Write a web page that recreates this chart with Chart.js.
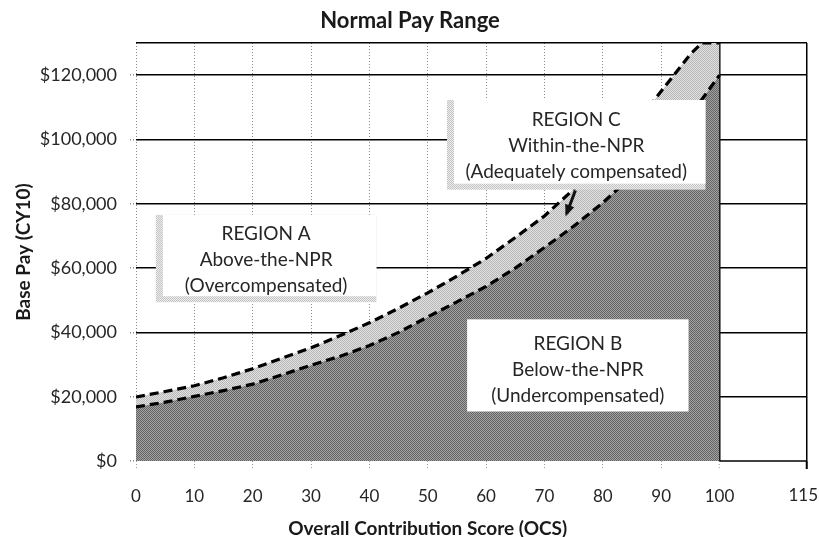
<!DOCTYPE html>
<html>
<head>
<meta charset="utf-8">
<script src="https://cdn.jsdelivr.net/npm/chart.js@4.4.1/dist/chart.umd.min.js"></script>
<style>
  html, body { margin: 0; padding: 0; background: #ffffff; }
  #wrap { width: 819px; height: 537px; position: relative; }
</style>
</head>
<body>
<div id="wrap"><canvas id="chart"></canvas></div>
<script>
// ---- data ----
const chartTitle = 'Normal Pay Range';
const xAxisTitle = 'Overall Contribution Score (OCS)';
const yAxisTitle = 'Base Pay (CY10)';
const scores   = [0, 5, 10, 15, 20, 25, 30, 35, 40, 45, 50, 55, 60, 65, 70, 75, 80, 85, 90, 95, 97, 100];
const upperNPR = [19900, 21600, 23400, 25900, 28700, 32000, 35200, 39000, 43000, 47500, 52300, 57500, 63000, 69500, 76200, 84500, 93500, 103500, 115000, 126500, 130000, 130000];
const lowerNPR = [16800, 18300, 20100, 21900, 23900, 26800, 29800, 32600, 35900, 40000, 44800, 49500, 54300, 60000, 66400, 73000, 80300, 88700, 98000, 108000, 112500, 120000];
const baselineScores = [0, 100];
const baselineValues = [0, 0];
const xTickValues = [0, 10, 20, 30, 40, 50, 60, 70, 80, 90, 100, 115];
const yTickValues = [0, 20000, 40000, 60000, 80000, 100000, 120000, 130000];
const regionA = ['REGION A', 'Above-the-NPR', '(Overcompensated)'];
const regionB = ['REGION B', 'Below-the-NPR', '(Undercompensated)'];
const regionC = ['REGION C', 'Within-the-NPR', '(Adequately compensated)'];

// ---- styling helpers ----
function checker(c1, c2) {
  const cv = document.createElement('canvas');
  cv.width = 2; cv.height = 2;
  const g = cv.getContext('2d');
  g.fillStyle = c1; g.fillRect(0, 0, 2, 2);
  g.fillStyle = c2; g.fillRect(0, 0, 1, 1); g.fillRect(1, 1, 1, 1);
  return g.createPattern(cv, 'repeat');
}
const darkFill = checker('#a2a2a2', '#646464');
const lightFill = checker('#e2e2e2', '#b6b6b6');
const shadowFill = checker('#ededed', '#c4c4c4');
const FONT = 'Lato, "Open Sans", "DejaVu Sans", sans-serif';
const LAST_X = xTickValues[xTickValues.length - 1];

const pts = (xs, ys) => xs.map((v, i) => ({ x: v, y: ys[i] }));

const annotate = {
  id: 'annotate',
  afterDraw(chart) {
    const { ctx, chartArea: a, scales: { x, y } } = chart;
    ctx.save();
    // bottom edge of the empty 100-115 band
    ctx.strokeStyle = '#000';
    ctx.lineWidth = 1.5;
    ctx.beginPath();
    ctx.moveTo(x.getPixelForValue(100), a.bottom);
    ctx.lineTo(a.right, a.bottom);
    ctx.stroke();

    // last x tick label, pulled inside the canvas edge as in the reference
    ctx.fillStyle = '#262626';
    ctx.font = '17px ' + FONT;
    ctx.textAlign = 'right';
    ctx.textBaseline = 'middle';
    ctx.fillText(String(LAST_X), x.getPixelForValue(LAST_X) + 11, 496);

    // region boxes
    function box(x0, x1, yTop, yBot, shadow, lines) {
      const L = x.getPixelForValue(x0), R = x.getPixelForValue(x1);
      const T = y.getPixelForValue(yTop), B = y.getPixelForValue(yBot);
      let cx = (L + R) / 2;
      if (shadow) {
        ctx.fillStyle = shadowFill;
        ctx.fillRect(L - 7, T, R - L + 7, B - T + 6);
        cx = (L - 7 + R) / 2;
      }
      ctx.fillStyle = '#ffffff';
      ctx.fillRect(L, T, R - L, B - T);
      ctx.fillStyle = '#262626';
      ctx.font = '19px ' + FONT;
      ctx.textAlign = 'center';
      ctx.textBaseline = 'middle';
      const cy = (T + B) / 2 + 4;
      lines.forEach((t, i) => ctx.fillText(t, cx, cy + (i - 1) * 26));
    }
    box(4.6, 41.2, 76560, 51250, true, regionA);
    box(56.75, 94.7, 44060, 15400, false, regionB);
    box(54.5, 97.6, 112280, 86250, true, regionC);

    // arrow from region C box
    const x1 = x.getPixelForValue(75.3), y1 = y.getPixelForValue(84150);
    const x2 = x.getPixelForValue(73.8), y2 = y.getPixelForValue(76900);
    ctx.strokeStyle = '#111';
    ctx.lineWidth = 3;
    ctx.beginPath(); ctx.moveTo(x1, y1); ctx.lineTo(x2, y2); ctx.stroke();
    const ang = Math.atan2(y2 - y1, x2 - x1);
    ctx.fillStyle = '#111';
    ctx.beginPath();
    ctx.moveTo(x2 + Math.cos(ang) * 3, y2 + Math.sin(ang) * 3);
    ctx.lineTo(x2 - Math.cos(ang - 0.5) * 10, y2 - Math.sin(ang - 0.5) * 10);
    ctx.lineTo(x2 - Math.cos(ang + 0.5) * 10, y2 - Math.sin(ang + 0.5) * 10);
    ctx.closePath(); ctx.fill();

    // titles
    ctx.fillStyle = '#1a1a1a';
    ctx.textAlign = 'center';
    ctx.textBaseline = 'middle';
    ctx.font = 'bold 22px ' + FONT;
    ctx.fillText(chartTitle, 410, 21);
    ctx.font = 'bold 19px ' + FONT;
    ctx.fillText(xAxisTitle, (x.getPixelForValue(0) + x.getPixelForValue(100)) / 2, 529);
    ctx.save();
    ctx.translate(24, (a.top + a.bottom) / 2);
    ctx.rotate(-Math.PI / 2);
    ctx.font = 'bold 19px ' + FONT;
    ctx.fillText(yAxisTitle, 0, 0);
    ctx.restore();
    ctx.restore();
  }
};

new Chart(document.getElementById('chart'), {
  type: 'line',
  data: {
    datasets: [
      {
        label: 'NPR lower bound',
        data: pts(scores, lowerNPR),
        borderColor: '#000', borderWidth: 3.2, borderDash: [9, 5],
        backgroundColor: darkFill, fill: 'origin',
        pointRadius: 0, tension: 0
      },
      {
        label: 'NPR upper bound',
        data: pts(scores, upperNPR),
        borderColor: '#000', borderWidth: 3.2, borderDash: [9, 5],
        backgroundColor: lightFill, fill: '-1',
        pointRadius: 0, tension: 0
      },
      {
        label: 'Zero',
        data: pts(baselineScores, baselineValues),
        borderColor: '#000', borderWidth: 2.5, borderDash: [9, 5],
        fill: false, pointRadius: 0
      }
    ]
  },
  options: {
    responsive: true,
    maintainAspectRatio: false,
    animation: false,
    events: [],
    layout: { padding: { top: 43, right: 12, left: 0, bottom: 0 } },
    plugins: { legend: { display: false }, tooltip: { enabled: false }, title: { display: false } },
    scales: {
      x: {
        type: 'linear', min: 0, max: 115, z: 1,
        afterBuildTicks: s => { s.ticks = xTickValues.map(v => ({ value: v })); },
        afterFit: s => { s.height = 76; s.paddingRight = 0; s.paddingLeft = 0; },
        ticks: {
          autoSkip: false, maxRotation: 0, padding: 17, color: '#262626', font: { family: FONT, size: 17 },
          callback: v => v === LAST_X ? '' : String(v)
        },
        grid: {
          color: c => (c.tick && (c.tick.value === 100 || c.tick.value === 115)) ? '#000' : '#8a8a8a',
          lineWidth: c => (c.tick && c.tick.value === 100) ? 2.5 : (c.tick && c.tick.value === 115) ? 1.5 : 1,
          tickLength: 8,
          tickColor: c => (c.tick && c.tick.value === 115) ? '#000' : '#9a9a9a',
          tickWidth: c => (c.tick && c.tick.value === 115) ? 2 : 1,
          tickBorderDash: c => (c.tick && c.tick.value === 115) ? [] : [1, 2]
        },
        border: {
          display: false,
          dash: c => (c.tick && (c.tick.value === 100 || c.tick.value === 115)) ? [] : [1, 2]
        }
      },
      y: {
        type: 'linear', min: 0, max: 130000, z: 1,
        afterBuildTicks: s => { s.ticks = yTickValues.map(v => ({ value: v })); },
        afterFit: s => { s.width = 136; s.paddingTop = 0; s.paddingBottom = 0; },
        ticks: {
          padding: 13, color: '#262626', font: { family: FONT, size: 18 },
          callback: v => v === 130000 ? '' : '$' + Number(v).toLocaleString('en-US')
        },
        grid: {
          color: c => (c.tick && c.tick.value === 0) ? 'rgba(0,0,0,0)' : '#000',
          lineWidth: 1.6,
          tickLength: 6,
          tickColor: c => (c.tick && c.tick.value === 130000) ? 'rgba(0,0,0,0)' : '#8a8a8a',
          tickBorderDash: [1, 2]
        },
        border: { display: false, dash: [] }
      }
    }
  },
  plugins: [annotate]
});
</script>
</body>
</html>
